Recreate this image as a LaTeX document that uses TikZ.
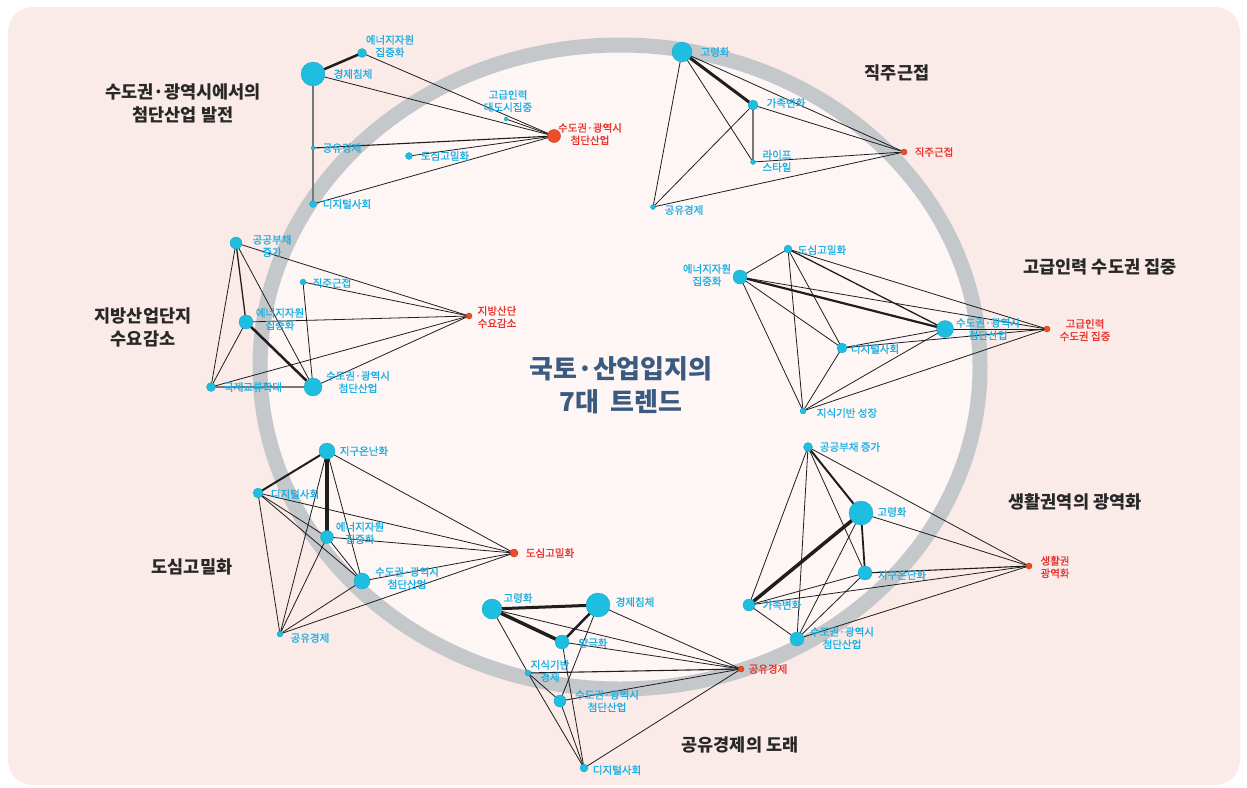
\documentclass[tikz,border=0pt]{standalone}
\usepackage{fontspec}
\setmainfont{Noto Sans CJK KR}
\newfontfamily\labelfont{Noto Sans CJK KR}[FakeBold=1.1]

\begin{document}
\begin{tikzpicture}[x=1pt, y=-1pt,
    trend/.style={circle, fill=nodecyan, draw=nodecyan!85!black, line width=0.3, inner sep=0pt},
    target/.style={circle, fill=targetred, draw=targetred!75!black, line width=0.4, inner sep=0pt},
    link/.style={draw=edgedark, line width=0.8},
    graylink/.style={draw=edgegray, line width=1.5},
    lab/.style={font=\labelfont\fontsize{10.5}{12.5}\selectfont, text=labelcyan, align=center, inner sep=0pt},
    tlab/.style={font=\labelfont\fontsize{10.5}{12.5}\selectfont, text=redtext, align=center, inner sep=0pt},
    title/.style={font=\fontsize{17.5}{23}\selectfont\bfseries, text=titledark, align=center, inner sep=0pt}]
  % Define colors
  \definecolor{bgpink}{RGB}{251,235,232}
  \definecolor{innerpink}{RGB}{253,246,245}
  \definecolor{ringgray}{RGB}{196,200,203}
  \definecolor{shadowgray}{RGB}{226,223,223}
  \definecolor{nodecyan}{RGB}{30,190,225}
  \definecolor{labelcyan}{RGB}{27,176,228}
  \definecolor{targetred}{RGB}{238,78,38}
  \definecolor{redtext}{RGB}{230,50,45}
  \definecolor{titledark}{RGB}{40,40,40}
  \definecolor{centerblue}{RGB}{59,90,128}
  \definecolor{edgedark}{RGB}{30,30,30}
  \definecolor{edgegray}{RGB}{120,120,120}
  \pgfdeclareradialshading{ringshade}{\pgfpoint{0bp}{0bp}}{color(0bp)=(innerpink); color(45bp)=(innerpink); color(47bp)=(white); color(48.6bp)=(shadowgray); color(50bp)=(ringgray)}

  \useasboundingbox (0,0) rectangle (1247,787);

  % Background panel and ring
  \fill[bgpink, rounded corners=25] (8,7) rectangle (1240,785);
  \path[shading=ringshade] (620,367) ellipse [x radius=360, y radius=322];
  \draw[ringgray, line width=15] (620,367) ellipse [x radius=360, y radius=322];

  % Centre title
  \node[font=\fontsize{26}{33}\selectfont\bfseries, text=centerblue, align=center, inner sep=0pt] (maintitle) at (621,385) {국토·산업입지의\\7대\hspace{0.45em}트렌드};

  % Positions of the trends (a..g = one cluster each)
  \foreach \n/\x/\y in {aEn/362/53, aEco/313/74, aTal/506/119, aHi/554/136, aSh/313/148, aDen/409/156, aDig/313/204,
    bAge/682/52, bFam/753/105, bLife/753/162, bSh/653/207, bJik/904/152,
    cDebt/236/243, cJik/303/282, cEn/246/322, cInt/211/387, cHi/313/387, cReg/469/316,
    dDen/788/249, dEn/740/277, dHi/945/329, dDig/842/348, dKn/803/411, dTal/1047/329,
    eWarm/327/451, eDig/258/493, eEn/327/537, eHi/362/581, eSh/280/634, eDen/514/553,
    fDebt/808/447, fAge/861/513, fWarm/865/573, fFam/749/605, fHi/797/639, fLive/1029/566,
    gAge/492/609, gEco/598/605, gPol/562/642, gKn/528/673, gHi/560/701, gDig/584/768, gSh/741/669} {
    \coordinate (\n) at (\x,\y);
  }

  % Thin links
  \foreach \a/\b in {aEn/aHi, aEco/aHi, aTal/aHi, aDen/aHi, aDig/aHi,
    bAge/bJik, bAge/bLife, bAge/bSh, bFam/bJik, bFam/bSh, bLife/bJik, bSh/bJik,
    cDebt/cInt, cDebt/cHi, cDebt/cReg, cJik/cHi, cJik/cReg, cEn/cReg, cEn/cInt, cInt/cReg, cHi/cReg,
    dEn/dDen, dEn/dTal, dEn/dDig, dEn/dKn, dDen/dTal, dDen/dDig, dDen/dKn, dHi/dTal, dHi/dDig, dHi/dKn, dDig/dTal, dDig/dKn, dKn/dTal,
    eWarm/eHi, eWarm/eSh, eWarm/eDen, eDig/eEn, eDig/eHi, eDig/eSh, eDig/eDen, eEn/eHi, eEn/eSh, eEn/eDen, eHi/eSh, eHi/eDen, eSh/eDen,
    fDebt/fWarm, fDebt/fFam, fDebt/fHi, fDebt/fLive, fAge/fHi, fAge/fLive, fWarm/fFam, fWarm/fHi, fFam/fHi, fFam/fLive, fHi/fLive,
    gAge/gSh, gAge/gKn, gEco/gSh, gEco/gHi, gPol/gSh, gPol/gDig, gKn/gHi, gKn/gDig, gHi/gSh, gHi/gDig, gDig/gSh} {
    \draw[link] (\a) -- (\b);
  }

  % Stronger links
  \foreach \a/\b/\w in {aEco/aEn/2.5, aSh/aHi/1.1,
    bAge/bFam/3,
    cDebt/cEn/1.3, cEn/cHi/2.5,
    dEn/dHi/2.2, dDen/dHi/1.3,
    eWarm/eDig/2, eWarm/eEn/3.2,
    fDebt/fAge/2, fAge/fFam/3.5, fAge/fWarm/1.8, fWarm/fLive/1.1,
    gAge/gEco/3, gAge/gPol/3.5, gEco/gPol/2.5, gKn/gSh/1.1} {
    \draw[link, line width=\w] (\a) -- (\b);
  }

  % Grey links
  \foreach \a/\b in {aEco/aSh, aSh/aDig, bFam/bLife, cInt/cHi} {
    \draw[graylink] (\a) -- (\b);
  }

  % Trend dots (size by weight)
  \foreach \n/\s in {aEn/9, aEco/24, aTal/4, aSh/4, aDen/7, aDig/7,
    bAge/20, bFam/10, bLife/5, bSh/5,
    cDebt/12, cJik/6, cEn/14, cInt/9, cHi/18,
    dDen/8, dEn/14, dHi/17, dDig/10, dKn/6,
    eWarm/16, eDig/10, eEn/13, eHi/16, eSh/6,
    fDebt/9, fAge/24, fWarm/14, fFam/12, fHi/14,
    gAge/20, gEco/24, gPol/14, gKn/6, gHi/12, gDig/8} {
    \node[trend, minimum size=\s] (\n-dot) at (\n) {};
  }

  % Outcome dots
  \foreach \n/\s in {aHi/13, bJik/6, cReg/6, dTal/6, eDen/8, fLive/6, gSh/6} {
    \node[target, minimum size=\s] (\n-dot) at (\n) {};
  }

  % Trend labels
  \foreach \n/\x/\y/\txt in {aEnL/390/46/{에너지자원\\집중화}, aEcoL/353/74/경제침체, aTalL/508/101/{고급인력\\대도시집중},
    aShL/342/148/공유경제, aDenL/445/156/도심고밀화, aDigL/347/204/디지털사회,
    bAgeL/715/52/고령화, bFamL/786/103/가족변화, bLifeL/777/161/{라이프\\스타일}, bShL/684/210/공유경제,
    cDebtL/272/246/{공공부채\\증가}, cJikL/332/283/직주근접, cEnL/280/319/{에너지자원\\집중화},
    cIntL/253/387/국제교류확대, cHiL/358/382/{수도권·광역시\\첨단산업},
    dDenL/822/250/도심고밀화, dEnL/707/275/{에너지자원\\집중화}, dHiL/988/329/{수도권·광역시\\첨단산업},
    dDigL/875/349/디지털사회, dKnL/847/413/{지식기반 성장},
    eWarmL/364/451/지구온난화, eDigL/295/494/디지털사회, eEnL/360/533/{에너지자원\\집중화},
    eHiL/407/578/{수도권·광역시\\첨단산업}, eShL/310/638/공유경제,
    fDebtL/850/447/{공공부채 증가}, fAgeL/892/512/고령화, fWarmL/902/575/지구온난화,
    fFamL/782/605/가족변화, fHiL/842/638/{수도권·광역시\\첨단산업},
    gAgeL/518/598/고령화, gEcoL/635/602/경제침체, gPolL/593/643/양극화, gKnL/550/671/{지식기반\\경제},
    gHiL/607/701/{수도권·광역시\\첨단산업}, gDigL/617/770/디지털사회} {
    \node[lab] (\n) at (\x,\y) {\txt};
  }

  % Outcome labels
  \foreach \n/\x/\y/\txt in {aHiL/590/134/{수도권·광역시\\첨단산업}, bJikL/934/152/직주근접, cRegL/497/317/{지방산단\\수요감소},
    dTalL/1085/330/{고급인력\\수도권 집중}, eDenL/550/553/도심고밀화, fLiveL/1055/567/{생활권\\광역화},
    gShL/768/669/공유경제} {
    \node[tlab] (\n) at (\x,\y) {\txt};
  }

  % Cluster titles
  \foreach \n/\x/\y/\txt in {aTitle/183/103/{수도권·광역시에서의\\첨단산업 발전}, bTitle/897/73/직주근접,
    cTitle/143/327/{지방산업단지\\수요감소}, dTitle/1100/267/{고급인력 수도권 집중},
    eTitle/192/567/도심고밀화, fTitle/1075/502/{생활권역의 광역화}, gTitle/740/745/{공유경제의 도래}} {
    \node[title] (\n) at (\x,\y) {\txt};
  }
\end{tikzpicture}
\end{document}
